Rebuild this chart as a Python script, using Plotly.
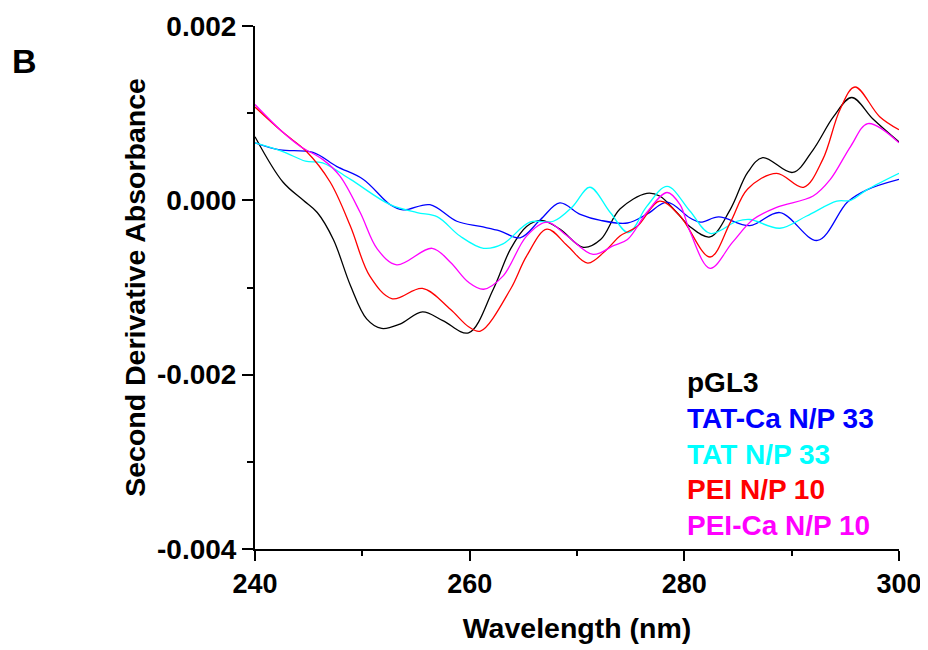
import plotly.graph_objects as go

# ---- data ----
pgl3_x = [240, 242.6, 244.5, 245.8, 247.3, 248.9, 250.4, 251.8, 253.5, 255.6, 257.5, 259.9,
          262.2, 263.8, 265.3, 266.7, 268.4, 270.6, 272.2, 274.0, 276.5, 277.7, 279.3, 280.5,
          282.4, 284.3, 285.9, 287.3, 290.1, 292.0, 293.9, 295.6, 297.6, 300]
pgl3_y = [0.73, 0.21, 0.0, -0.14, -0.45, -0.98, -1.36, -1.47, -1.42, -1.28, -1.38, -1.52,
          -1.02, -0.56, -0.30, -0.23, -0.33, -0.54, -0.45, -0.10, 0.08, 0.05, -0.14, -0.30,
          -0.42, -0.10, 0.32, 0.49, 0.32, 0.58, 0.96, 1.18, 0.93, 0.67]

tatca_x = [240, 242.3, 245.4, 247.6, 250.1, 252.6, 253.8, 256.3, 258.8, 261.0, 262.8, 264.7,
           266.6, 268.4, 270.3, 272.2, 274.7, 276.5, 278.4, 280.5, 281.5, 283.2, 286.1, 288.9,
           292.4, 295.2, 297.0, 300]
tatca_y = [0.66, 0.58, 0.55, 0.39, 0.24, -0.05, -0.11, -0.05, -0.24, -0.30, -0.35, -0.43,
           -0.22, -0.03, -0.16, -0.23, -0.26, -0.16, -0.02, -0.20, -0.25, -0.19, -0.29, -0.14,
           -0.46, -0.02, 0.12, 0.24]

tat_x = [240, 242.6, 244.7, 246.3, 248.9, 252.6, 255.1, 257.0, 259.1, 261.3, 263.1, 265.6,
         267.8, 269.6, 271.2, 273.1, 274.8, 276.5, 278.4, 280.5, 282.4, 284.9, 286.1, 288.9,
         291.4, 294.2, 295.5, 297.0, 300]
tat_y = [0.66, 0.56, 0.45, 0.43, 0.24, -0.05, -0.14, -0.19, -0.41, -0.55, -0.50, -0.25,
         -0.24, -0.07, 0.15, -0.14, -0.37, -0.07, 0.16, -0.12, -0.38, -0.24, -0.22, -0.32,
         -0.18, -0.01, 0.0, 0.12, 0.31]

pei_x = [240, 242.6, 244.8, 247.0, 248.9, 250.7, 252.8, 255.6, 258.2, 259.9, 261.0, 263.8,
         265.3, 267.2, 269.1, 271.0, 272.8, 274.0, 275.6, 277.7, 279.6, 282.4, 284.3, 285.9,
         288.6, 291.1, 292.9, 294.5, 295.9, 298.2, 300]
pei_y = [1.07, 0.78, 0.56, 0.21, -0.30, -0.87, -1.13, -1.01, -1.25, -1.45, -1.50, -1.02,
         -0.64, -0.33, -0.52, -0.72, -0.56, -0.41, -0.30, -0.01, -0.18, -0.65, -0.25, 0.13,
         0.31, 0.15, 0.47, 1.04, 1.30, 0.96, 0.81]

peica_x = [240, 242.6, 244.2, 246.3, 247.9, 249.8, 251.4, 253.2, 256.5, 258.2, 259.9, 261.3,
           263.1, 265.3, 267.2, 269.1, 271.5, 273.4, 274.7, 276.5, 278.4, 279.6, 280.5, 282.4,
           284.5, 286.4, 288.6, 292.0, 293.6, 295.5, 297.1, 300]
peica_y = [1.10, 0.78, 0.62, 0.47, 0.28, -0.14, -0.56, -0.74, -0.55, -0.71, -0.94, -1.02,
           -0.87, -0.41, -0.25, -0.41, -0.62, -0.52, -0.45, -0.14, 0.09, -0.05, -0.35, -0.78,
           -0.48, -0.22, -0.08, 0.05, 0.24, 0.62, 0.88, 0.66]

series_names = ["pGL3", "TAT-Ca N/P 33", "TAT N/P 33", "PEI N/P 10", "PEI-Ca N/P 10"]
series_colors = ["#000000", "#0000FF", "#00FFFF", "#FF0000", "#FF00FF"]
series_x = [pgl3_x, tatca_x, tat_x, pei_x, peica_x]
series_y = [pgl3_y, tatca_y, tat_y, pei_y, peica_y]

y_tickvals = [0.002, 0.0, -0.002, -0.004]
y_ticktext = ["0.002", "0.000", "-0.002", "-0.004"]
x_tickvals = [240, 260, 280, 300]

FONT = "Liberation Sans, Arial, sans-serif"

fig = go.Figure()
for name, col, xs, ys in zip(series_names, series_colors, series_x, series_y):
    fig.add_trace(go.Scatter(
        x=xs, y=[v * 1e-3 for v in ys], mode="lines", name=name,
        line=dict(color=col, width=1.3, shape="spline", smoothing=1.0),
        showlegend=False, hoverinfo="skip"))

# text-only legend
leg_top = 0.3174
for i, (name, col) in enumerate(zip(series_names, series_colors)):
    fig.add_annotation(
        x=0.668, y=leg_top - i * 0.0679, xref="paper", yref="paper",
        text=f"<b>{name}</b>", showarrow=False, xanchor="left", yanchor="middle",
        font=dict(family=FONT, size=28, color=col))

fig.add_annotation(
    x=-0.380, y=0.934, xref="paper", yref="paper", text="<b>B</b>", showarrow=False,
    xanchor="left", yanchor="middle", font=dict(family=FONT, size=34, color="black"))

fig.update_layout(
    width=928, height=650,
    margin=dict(l=247, r=37, t=18, b=109),
    paper_bgcolor="white", plot_bgcolor="white",
    font=dict(family=FONT, color="black"),
    xaxis=dict(
        range=[240, 300], tickvals=x_tickvals, ticktext=[f"<b>{v}</b>" for v in x_tickvals],
        ticks="outside", ticklen=10, tickwidth=2, tickcolor="black", automargin=False,
        showline=True, linewidth=2, linecolor="black", showgrid=False, zeroline=False,
        tickfont=dict(family=FONT, size=27),
        minor=dict(ticks="outside", ticklen=5, tickwidth=1.5, tickcolor="black", dtick=10, tick0=240, showgrid=False),
        title=dict(text="<b>Wavelength (nm)</b>", font=dict(family=FONT, size=28.5), standoff=20),
    ),
    yaxis=dict(
        range=[-0.004, 0.002], tickvals=y_tickvals, ticktext=[f"<b>{t}</b>" for t in y_ticktext],
        ticks="outside", ticklen=11, tickwidth=2, tickcolor="black", automargin=False,
        showline=True, linewidth=2, linecolor="black", showgrid=False, zeroline=False,
        tickfont=dict(family=FONT, size=28),
        minor=dict(ticks="outside", ticklen=6, tickwidth=1.5, tickcolor="black", dtick=0.001, tick0=0, showgrid=False),
        title=dict(text="<b>Second Derivative Absorbance</b>", font=dict(family=FONT, size=28.5), standoff=3),
    ),
)

fig.write_html("out.html")
